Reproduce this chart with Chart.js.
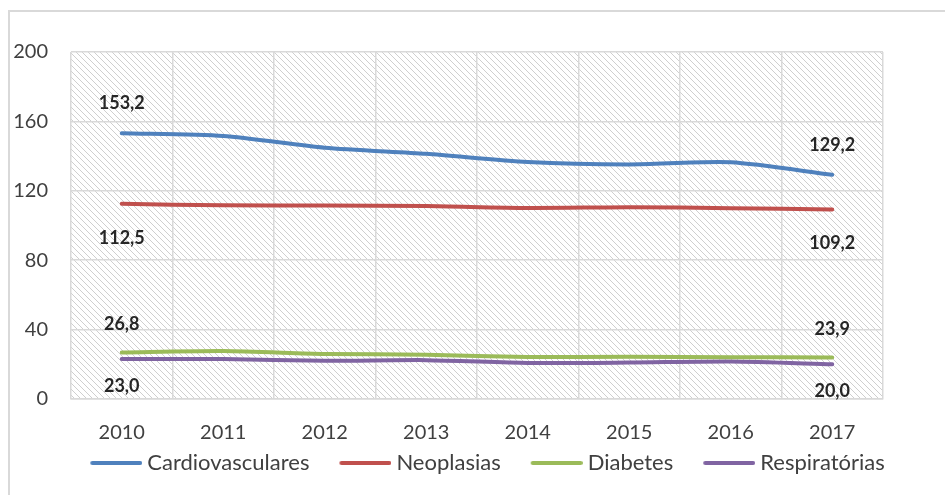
<!DOCTYPE html>
<html>
<head>
<meta charset="utf-8">
<script src="https://cdn.jsdelivr.net/npm/chart.js@4"></script>
<style>
html, body { margin: 0; padding: 0; background: #fff; overflow: hidden; }
#cornice { position: absolute; left: 8px; top: 10px; width: 960px; height: 520px; border-left: 2px solid #d9d9d9; border-top: 2px solid #d9d9d9; }
#grafico { position: absolute; left: 0; top: 0; }
</style>
</head>
<body>
<div id="cornice"></div>
<canvas id="grafico" width="945" height="495"></canvas>
<script>
// dati
const anni = ['2010', '2011', '2012', '2013', '2014', '2015', '2016', '2017']
const cardiovasculares = [153.2, 151.6, 144.8, 141.3, 136.6, 135.2, 136.4, 129.2]
const neoplasias = [112.5, 111.6, 111.5, 111.2, 110.1, 110.5, 110.0, 109.2]
const diabetes = [26.8, 27.6, 26.0, 25.5, 24.2, 24.3, 24.1, 23.9]
const respiratorias = [23.0, 23.0, 22.0, 22.4, 20.8, 21.0, 21.6, 20.0]
const nomi = ['Cardiovasculares', 'Neoplasias', 'Diabetes', 'Respiratórias']
const tickY = [0, 40, 80, 120, 160, 200]

const colori = ['#4f81bd', '#c0504d', '#9bbb59', '#8064a2']
// spostamento verticale delle etichette (px) per serie
const scostamenti = [-30, 34, -28, 27]

//Sfondo tratteggiato dell'area del grafico
const tratteggio = (() => {
    const c = document.createElement('canvas')
    const s = 6
    c.width = s
    c.height = s
    const g = c.getContext('2d')
    g.fillStyle = '#fff'
    g.fillRect(0, 0, s, s)
    g.strokeStyle = '#cfcfcf'
    g.lineWidth = 1
    ;[-s, 0, s].forEach(k => {
        g.beginPath()
        g.moveTo(k, 0)
        g.lineTo(k + s, s)
        g.stroke()
    })
    return c
})()

//Simbolo della legenda: linea spostata a destra dentro un'immagine
const simbolo = (colore) => {
    const c = document.createElement('canvas')
    c.width = 78
    c.height = 6
    const g = c.getContext('2d')
    g.strokeStyle = colore
    g.lineWidth = 4
    g.lineCap = 'round'
    g.beginPath()
    g.moveTo(28, 3)
    g.lineTo(76, 3)
    g.stroke()
    return c
}

const sfondo = {
    id: 'sfondo',
    beforeDraw(chart) {
        const {ctx, chartArea: a} = chart
        ctx.save()
        ctx.fillStyle = ctx.createPattern(tratteggio, 'repeat')
        ctx.fillRect(a.left, a.top, a.right - a.left, a.bottom - a.top)
        ctx.restore()
    }
}

//Etichette sul primo e ultimo punto
const etichette = {
    id: 'etichette',
    afterDatasetsDraw(chart) {
        const ctx = chart.ctx
        ctx.save()
        ctx.font = 'bold 18px Lato'
        ctx.fillStyle = '#262626'
        ctx.textAlign = 'center'
        ctx.textBaseline = 'middle'
        chart.data.datasets.forEach((ds, i) => {
            const meta = chart.getDatasetMeta(i)
            ;[0, ds.data.length - 1].forEach(j => {
                const p = meta.data[j]
                ctx.fillText(ds.data[j].toFixed(1).replace('.', ','), p.x, p.y + scostamenti[i])
            })
        })
        ctx.restore()
    }
}

const serie = [cardiovasculares, neoplasias, diabetes, respiratorias]

const data = {
    labels: anni,
    datasets: serie.map((valori, i) => ({
        label: nomi[i],
        data: valori,
        borderColor: colori[i],
        backgroundColor: colori[i],
        borderWidth: 4,
        borderCapStyle: 'round',
        pointRadius: 0,
        pointHoverRadius: 0,
        pointStyle: simbolo(colori[i]),
        tension: 0.25,
        fill: false
    }))
}

new Chart(document.querySelector('#grafico'), {
    type: 'line',
    data: data,
    options: {
        responsive: false,
        animation: false,
        layout: { padding: { top: 52, right: 0, left: 10, bottom: 11 } },
        plugins: {
            tooltip: { enabled: false },
            legend: {
                position: 'bottom',
                labels: {
                    usePointStyle: true,
                    pointStyleWidth: 66,
                    boxHeight: 6,
                    padding: 10,
                    color: '#404040',
                    font: { family: 'Lato', size: 22 }
                }
            }
        },
        scales: {
            x: {
                offset: true,
                grid: { color: '#d9d9d9', lineWidth: 1.5, drawTicks: false, offset: true },
                border: { color: '#d9d9d9', width: 1.5 },
                ticks: { color: '#404040', padding: 22, font: { family: 'Lato', size: 20 } },
                afterFit: s => { s.height = 43 }
            },
            y: {
                min: 0,
                max: 200,
                afterBuildTicks: s => { s.ticks = tickY.map(v => ({ value: v })) },
                grid: { color: '#d9d9d9', lineWidth: 1.5, drawTicks: false },
                border: { display: false },
                ticks: { color: '#404040', padding: 23, font: { family: 'Lato', size: 20 } },
                afterFit: s => { s.width = 61 }
            },
            destra: {
                type: 'linear',
                position: 'right',
                grid: { display: false },
                border: { display: false },
                ticks: { display: false },
                afterFit: s => { s.width = 62 }
            }
        }
    },
    plugins: [sfondo, etichette]
})
</script>
</body>
</html>
